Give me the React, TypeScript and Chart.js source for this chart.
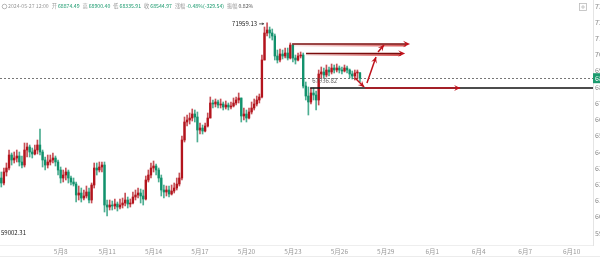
import React, { useEffect, useRef } from "react";
import { Chart, registerables } from "chart.js";
Chart.register(...registerables);

// ---- data (4h candles, slot 0 = 2024-05-04 04:00) ----
const firstOpen = 62387;
const closes = [
  62079, 62758, 63004, 63806, 63498, 63621, 63745, 63375, 63189, 64115,
  64300, 63992, 63868, 64115, 64423, 63992, 63498, 63189, 63375, 63498,
  63621, 63375, 62881, 62387, 62572, 62758, 62387, 62141, 62017, 61338,
  61462, 61153, 61277, 61524, 61030, 61955, 63004, 62881, 63066, 63189,
  60721, 60598, 60721, 60660, 60783, 60598, 60721, 60845, 61030, 60783,
  60845, 61215, 61338, 61462, 61277, 61092, 62264, 62572, 63004, 63128,
  62881, 62387, 61647, 61524, 61647, 61400, 61585, 61770, 62017, 62387,
  64732, 65843, 65966, 66089, 66336, 66151, 65349, 65472, 65287, 65596,
  66089, 67015, 66953, 67077, 66891, 66953, 66768, 66891, 66768, 66830,
  67015, 67200, 67323, 66213, 66336, 66089, 66460, 66706, 66953, 67200,
  67385, 69668, 71334, 71519, 71334, 71149, 69915, 69668, 70038, 69915,
  70100, 69791, 70593, 69791, 69668, 69915, 69976, 68064, 67447, 67077,
  67632, 67508, 67200, 68804, 68928, 68742, 69051, 68928, 69174, 69051,
  69174, 69051, 68989, 69174, 69051, 68804, 68681, 68866, 68874.49, 68544.97,
];
const highs = [
  62758, 63004, 63313, 64115, 63930, 63992, 64115, 63992, 63745, 64547,
  64547, 64423, 64238, 64423, 64732, 65411, 64115, 63683, 63806, 63806,
  63930, 63745, 63498, 63066, 62881, 63004, 62881, 62511, 62387, 62141,
  61894, 61770, 61647, 61894, 61770, 62079, 63313, 63313, 63375, 63375,
  63375, 61030, 61030, 60968, 61092, 60907, 61092, 61153, 61462, 61215,
  61092, 61524, 61647, 61770, 61709, 61647, 62511, 62881, 63313, 63436,
  63251, 63004, 62572, 61955, 61894, 61894, 61955, 62079, 62387, 62696,
  64979, 66151, 66274, 66398, 66645, 66583, 66460, 65781, 65657, 65781,
  66398, 67385, 67200, 67262, 67200, 67262, 67077, 67138, 67015, 67077,
  67323, 67385, 67632, 67323, 66706, 66583, 66706, 67077, 67262, 67447,
  67570, 69976, 71704, 71959.13, 71704, 71581, 71272, 70285, 70347, 70285,
  70408, 70408, 70717, 70593, 69976, 70100, 70162, 70100, 68311, 68002,
  67940, 67940, 67755, 69051, 69236, 69174, 69359, 69236, 69421, 69359,
  69421, 69298, 69236, 69359, 69298, 69113, 68989, 69051, 69051, 68900.4,
];
const lows = [
  61832, 61955, 62511, 62881, 63189, 63313, 63375, 63128, 63004, 63066,
  63683, 63683, 63621, 63806, 63868, 63806, 63066, 62881, 63004, 63189,
  63313, 63128, 62572, 62079, 62141, 62264, 62079, 61955, 61894, 60907,
  61030, 60907, 61030, 61153, 60845, 60845, 61770, 62572, 62758, 62758,
  60290, 60043, 60413, 60413, 60475, 60351, 60475, 60536, 60660, 60536,
  60598, 60783, 61030, 61153, 60845, 60721, 61030, 62141, 62387, 62758,
  62572, 62141, 61277, 61153, 61277, 61215, 61338, 61462, 61647, 61894,
  62264, 64609, 65596, 65719, 65904, 65843, 64609, 65102, 65102, 65226,
  65534, 66089, 66706, 66768, 66706, 66706, 66583, 66645, 66583, 66645,
  66768, 66891, 67015, 65843, 65966, 65843, 66028, 66336, 66583, 66830,
  67015, 67323, 69668, 71149, 71025, 70902, 69668, 69483, 69545, 69730,
  69791, 69668, 69730, 69545, 69421, 69606, 69791, 67940, 67200, 66274,
  66953, 67200, 66583, 66891, 68557, 68557, 68619, 68681, 68804, 68866,
  68928, 68866, 68804, 68928, 68866, 68557, 68496, 68434, 68496, 68335.91,
];
const opens = [firstOpen, ...closes.slice(0, -1)];

const dateTickSlots = [23, 41, 59, 77, 95, 113, 131, 149, 167, 185, 203, 221];
const dateTickLabels = ["5月8", "5月11", "5月14", "5月17", "5月20", "5月23", "5月26", "5月29", "6月1", "6月4", "6月7", "6月10"];
const priceTicks = [59000, 60000, 61000, 62000, 63000, 64000, 65000, 66000, 67000, 68000, 69000, 70000, 71000, 72000, 73000];

const lastTime = "2024-05-27 12:00";
const lastOpen = 68874.49;
const lastHigh = 68900.4;
const lastLow = 68335.91;
const lastClose = 68544.97;
const changeText = "-0.48%(-329.54)";
const amplitudeText = "0.82%";
const highMark = { slot: 103, price: 71959.13, text: "71959.13" };
const lowMark = { price: 59002.31, text: "59002.31" };

// drawn horizontal support level
const supportStartSlot = 119.7;
const supportPrice = 67940;
const supportText = "67936.82";

// red hand-drawn arrows in data units: [slotFrom, priceFrom, slotTo, priceTo]
const targetArrows = [
  [112.7, 70655, 158.4, 70655],
  [118.1, 70069, 156.5, 70069],
];
const pathArrows = [
  [137.1, 68557, 140.6, 68002],
  [141.7, 68249, 145.2, 69853],
  [146.0, 70162, 148.3, 70593],
  [141.0, 67940, 177.8, 67940],
];

const UP = "#b3141d";
const DOWN = "#11916c";
const UP_WICK = "rgba(179,20,29,0.75)";
const DOWN_WICK = "rgba(17,145,108,0.75)";
const FONT = '"Noto Sans CJK SC", "Noto Sans", sans-serif';

function arrowHead(ctx: CanvasRenderingContext2D, x1: number, y1: number, x2: number, y2: number, len: number, half: number, color: string) {
  const a = Math.atan2(y2 - y1, x2 - x1);
  ctx.save();
  ctx.fillStyle = color;
  ctx.beginPath();
  ctx.moveTo(x2, y2);
  ctx.lineTo(x2 - len * Math.cos(a) + half * Math.sin(a), y2 - len * Math.sin(a) - half * Math.cos(a));
  ctx.lineTo(x2 - len * 0.6 * Math.cos(a), y2 - len * 0.6 * Math.sin(a));
  ctx.lineTo(x2 - len * Math.cos(a) - half * Math.sin(a), y2 - len * Math.sin(a) + half * Math.cos(a));
  ctx.closePath();
  ctx.fill();
  ctx.restore();
}

const overlay = {
  id: "overlay",
  beforeDraw(chart: any) {
    const ctx = chart.ctx;
    ctx.save();
    ctx.fillStyle = "#fff";
    ctx.fillRect(0, 0, chart.width, chart.height);
    ctx.strokeStyle = "#ececec";
    ctx.lineWidth = 1;
    ctx.beginPath();
    ctx.moveTo(0, chart.height - 3.5);
    ctx.lineTo(chart.width, chart.height - 3.5);
    ctx.stroke();
    ctx.restore();
  },
  beforeDatasetsDraw(chart: any) {
    const { ctx, chartArea, scales } = chart;
    const y = Math.round(scales.y.getPixelForValue(lastClose)) + 0.5;
    ctx.save();
    ctx.strokeStyle = "#777";
    ctx.lineWidth = 1;
    ctx.setLineDash([2, 2]);
    ctx.beginPath();
    ctx.moveTo(chartArea.left, y);
    ctx.lineTo(chartArea.right, y);
    ctx.stroke();
    ctx.restore();
  },
  afterDatasetsDraw(chart: any) {
    const { ctx, chartArea, scales } = chart;
    const xs = scales.x, ys = scales.y;
    ctx.save();
    // support line
    const sy = ys.getPixelForValue(supportPrice);
    const sx = xs.getPixelForValue(supportStartSlot);
    ctx.strokeStyle = "#111";
    ctx.lineWidth = 1.3;
    ctx.beginPath();
    ctx.moveTo(sx, sy);
    ctx.lineTo(chartArea.right, sy);
    ctx.stroke();
    ctx.font = `6px ${FONT}`;
    ctx.fillStyle = "#666";
    ctx.textBaseline = "middle";
    ctx.textAlign = "left";
    ctx.fillText(supportText, sx + 2, sy - 7);

    // target arrows
    for (const [s1, p1, s2, p2] of targetArrows) {
      const x1 = xs.getPixelForValue(s1), y1 = ys.getPixelForValue(p1);
      const x2 = xs.getPixelForValue(s2), y2 = ys.getPixelForValue(p2);
      const g = ctx.createLinearGradient(x1, 0, x2, 0);
      g.addColorStop(0, "rgba(200,40,40,0.08)");
      g.addColorStop(1, "rgba(200,20,20,0.75)");
      ctx.strokeStyle = g;
      ctx.lineWidth = 2;
      ctx.beginPath();
      ctx.moveTo(x1, y1 + 1.5);
      ctx.lineTo(x2 - 4, y2 + 1.5);
      ctx.stroke();
      ctx.strokeStyle = "#7a0c0c";
      ctx.lineWidth = 1.3;
      ctx.beginPath();
      ctx.moveTo(x1, y1);
      ctx.lineTo(x2 - 3, y2);
      ctx.stroke();
      arrowHead(ctx, x1, y1, x2, y2, 7, 3.2, "#c0121c");
    }
    // path arrows
    for (const [s1, p1, s2, p2] of pathArrows) {
      const x1 = xs.getPixelForValue(s1), y1 = ys.getPixelForValue(p1);
      const x2 = xs.getPixelForValue(s2), y2 = ys.getPixelForValue(p2);
      ctx.strokeStyle = "#c0121c";
      ctx.lineWidth = 1.5;
      ctx.beginPath();
      ctx.moveTo(x1, y1);
      ctx.lineTo(x2, y2);
      ctx.stroke();
      arrowHead(ctx, x1, y1, x2, y2, 6, 3, "#c0121c");
    }

    // high / low marks
    const hx = xs.getPixelForValue(highMark.slot);
    const hy = ys.getPixelForValue(highMark.price) + 1;
    ctx.font = `6px ${FONT}`;
    ctx.fillStyle = "#222";
    ctx.textAlign = "right";
    ctx.fillText(highMark.text, hx - 10, hy);
    ctx.strokeStyle = "#333";
    ctx.lineWidth = 0.8;
    ctx.beginPath();
    ctx.moveTo(hx - 8, hy);
    ctx.lineTo(hx - 3, hy);
    ctx.stroke();
    arrowHead(ctx, hx - 8, hy, hx - 3, hy, 2.5, 1.5, "#333");
    const ly = ys.getPixelForValue(lowMark.price);
    ctx.textAlign = "left";
    ctx.fillStyle = "#222";
    ctx.fillText(lowMark.text, chartArea.left + 1, ly);
    ctx.restore();
  },
  afterDraw(chart: any) {
    const { ctx, chartArea, scales } = chart;
    ctx.save();
    // current price tag on axis
    const y = scales.y.getPixelForValue(lastClose);
    ctx.fillStyle = "#1b9a6e";
    ctx.fillRect(chartArea.right, y - 5, chart.width - chartArea.right, 10);
    ctx.fillStyle = "#fff";
    ctx.font = `7px ${FONT}`;
    ctx.textBaseline = "middle";
    ctx.textAlign = "left";
    ctx.fillText(lastClose.toFixed(2), chartArea.right + 2, y);

    // header
    ctx.strokeStyle = "#999";
    ctx.lineWidth = 0.7;
    ctx.beginPath();
    ctx.arc(4.5, 6.5, 2.3, 0, Math.PI * 2);
    ctx.stroke();
    const parts: [string, string][] = [
      [lastTime, "#999"], ["开", "#999"], [lastOpen.toFixed(2), "#1b9a6e"],
      ["高", "#999"], [lastHigh.toFixed(2), "#1b9a6e"],
      ["低", "#999"], [lastLow.toFixed(2), "#1b9a6e"],
      ["收", "#999"], [lastClose.toFixed(2), "#1b9a6e"],
      ["涨幅", "#999"], [changeText, "#1b9a6e"],
      ["振幅", "#999"], [amplitudeText, "#555"],
    ];
    ctx.font = `5.2px ${FONT}`;
    let x = 8;
    parts.forEach(([t, c], i) => {
      ctx.fillStyle = c;
      ctx.fillText(t, x, 6.5);
      x += ctx.measureText(t).width + (i % 2 === 0 ? 3 : 1);
    });

    // top-right icon
    ctx.strokeStyle = "#bbb";
    ctx.lineWidth = 0.8;
    ctx.strokeRect(579.5, 3.5, 7, 7);
    ctx.beginPath();
    ctx.moveTo(583, 5);
    ctx.lineTo(583, 9);
    ctx.moveTo(581, 7);
    ctx.lineTo(585, 7);
    ctx.stroke();
    ctx.restore();
  },
};

export default function App() {
  const ref = useRef<HTMLCanvasElement>(null);
  useEffect(() => {
    const colors = closes.map((c, i) => (c >= opens[i] ? UP : DOWN));
    const wickColors = closes.map((c, i) => (c >= opens[i] ? UP_WICK : DOWN_WICK));
    const bodies = closes.map((c, i) => ({ x: i, y: [opens[i], c] }));
    const wicks = closes.map((_, i) => ({ x: i, y: [lows[i], highs[i]] }));
    const chart = new Chart(ref.current as HTMLCanvasElement, {
      type: "bar",
      data: {
        datasets: [
          { label: "wick", data: wicks as any, backgroundColor: wickColors, barThickness: 1, grouped: false, order: 2 } as any,
          { label: "body", data: bodies as any, backgroundColor: colors, barThickness: 1.7, grouped: false, minBarLength: 1, order: 1 } as any,
        ],
      },
      options: {
        animation: false,
        responsive: false,
        devicePixelRatio: 1,
        layout: { padding: 0 },
        plugins: { legend: { display: false }, tooltip: { enabled: false } },
        scales: {
          x: {
            type: "linear",
            offset: false,
            min: -0.5,
            max: 229.3,
            grid: { display: false, drawTicks: false, offset: false },
            border: { display: true, color: "#eeeeee" },
            afterBuildTicks: (s: any) => { s.ticks = dateTickSlots.map((v) => ({ value: v })); },
            afterFit: (s: any) => { s.height = 15; s.paddingLeft = 0; s.paddingRight = 0; },
            ticks: {
              autoSkip: false, maxRotation: 0, minRotation: 0, padding: 3,
              color: "#999", font: { size: 6.5, family: FONT },
              callback: (_v: any, i: number) => dateTickLabels[i],
            },
          },
          y: {
            type: "linear",
            position: "right",
            min: 58254,
            max: 73370,
            grid: { display: false, drawTicks: false },
            border: { display: true, color: "#e4e4e4" },
            afterBuildTicks: (s: any) => { s.ticks = priceTicks.map((v) => ({ value: v })); },
            afterFit: (s: any) => { s.width = 7; s.paddingTop = 0; s.paddingBottom = 0; },
            ticks: {
              padding: 2, color: "#888", font: { size: 7, family: FONT },
              callback: (v: any) => String(v),
            },
          },
        },
      } as any,
      plugins: [overlay],
    });
    return () => chart.destroy();
  }, []);
  return (
    <div style={{ position: "fixed", left: 0, top: 0, width: 600, height: 260, background: "#fff" }}>
      <canvas ref={ref} width={600} height={260} style={{ display: "block", width: 600, height: 260 }} />
    </div>
  );
}
